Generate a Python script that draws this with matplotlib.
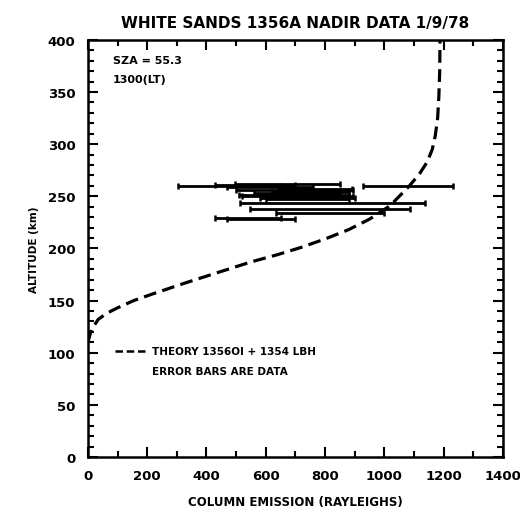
"""
White Sands 1356A nadir data, 1/9/78
"""

import matplotlib
matplotlib.use('Agg')
import matplotlib.pyplot as plt
from matplotlib.ticker import MultipleLocator
import numpy as np


#---------------------------------------------------------------------------------------------------
# Input Parameters
#---------------------------------------------------------------------------------------------------

# Theory curve (1356 OI + 1354 LBH), column emission vs altitude
theory_em = [0, 3, 12, 35, 65, 100, 155, 215, 330, 440, 550, 640, 720, 800, 880, 950, 1020,
             1085, 1120, 1145, 1162, 1172, 1180, 1184, 1187, 1188]
theory_alt = [110, 113, 122, 132, 138, 143, 150, 156, 167, 177, 187, 194, 201, 209, 218, 228, 241,
              260, 272, 283, 295, 308, 325, 345, 370, 400]

# Data: altitude (km), left and right ends of the error bars (Rayleighs)
data_alt = [260, 261, 259, 262, 260, 256, 253, 250, 247, 244, 238, 234, 229, 228, 257, 251, 248,
            254]
data_lo = [305, 428, 468, 496, 929, 500, 560, 520, 600, 513, 547, 636, 428, 468, 640, 510, 580,
           620]
data_hi = [648, 698, 760, 850, 1232, 895, 850, 895, 880, 1137, 1086, 1000, 653, 698, 890, 880,
           900, 880]

out_fname = 'out.png'


#---------------------------------------------------------------------------------------------------
# Main Program
#---------------------------------------------------------------------------------------------------

lo = np.array(data_lo)
hi = np.array(data_hi)
mid = 0.5 * (lo + hi)
err = 0.5 * (hi - lo)

plt.rcParams['font.family'] = 'DejaVu Sans'
plt.rcParams['font.weight'] = 'bold'

fig = plt.figure(figsize=(5.2, 5.1), dpi=100)
ax = fig.add_axes([0.169, 0.102, 0.798, 0.818])

ax.plot(theory_em, theory_alt, 'k', lw=2.3, dashes=(4, 2))
ax.errorbar(mid, data_alt, xerr=err, fmt='none', ecolor='k', elinewidth=2.0,
            capsize=2.5, capthick=1.8)

ax.set_xlim(0, 1400)
ax.set_ylim(0, 400)
ax.xaxis.set_major_locator(MultipleLocator(200))
ax.xaxis.set_minor_locator(MultipleLocator(100))
ax.yaxis.set_major_locator(MultipleLocator(50))
ax.yaxis.set_minor_locator(MultipleLocator(10))
ax.tick_params(which='both', direction='in', top=True, right=True, width=1.5)
ax.tick_params(which='major', length=7, labelsize=9.5, pad=9)
ax.tick_params(which='minor', length=4)
for lab in ax.get_xticklabels() + ax.get_yticklabels():
    lab.set_fontweight('bold')
for s in ax.spines.values():
    s.set_linewidth(1.8)

ax.set_xlabel('COLUMN EMISSION (RAYLEIGHS)', fontsize=8.5, fontweight='bold', labelpad=9)
ax.set_ylabel('ALTITUDE (km)', fontsize=7.5, fontweight='bold', labelpad=6)
ax.set_title('WHITE SANDS 1356A NADIR DATA 1/9/78', fontsize=11, fontweight='bold', pad=9)

ax.text(0.06, 0.945, 'SZA = 55.3', transform=ax.transAxes, fontsize=8, fontweight='bold')
ax.text(0.06, 0.9, '1300(LT)', transform=ax.transAxes, fontsize=8, fontweight='bold')

ax.plot([0.065, 0.14], [0.255, 0.255], 'k', lw=1.8, dashes=(3, 1.5), transform=ax.transAxes)
ax.text(0.155, 0.255, 'THEORY 1356OI + 1354 LBH', transform=ax.transAxes, fontsize=7.5,
        fontweight='bold', va='center')
ax.text(0.155, 0.205, 'ERROR BARS ARE DATA', transform=ax.transAxes, fontsize=7.5,
        fontweight='bold', va='center')

plt.savefig(out_fname, dpi=100)
